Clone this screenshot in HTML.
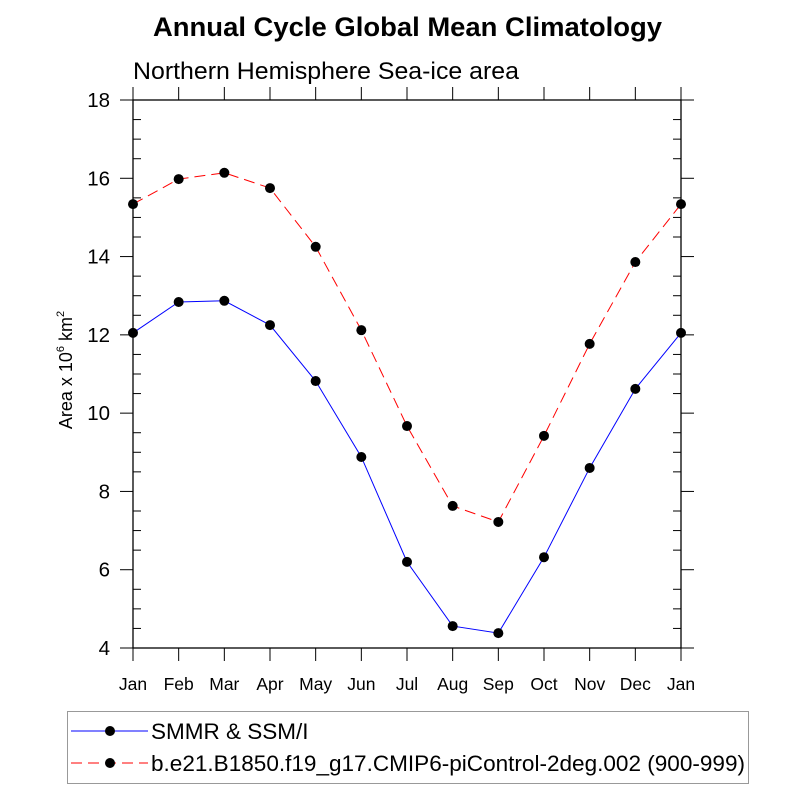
<!DOCTYPE html>
<html><head><meta charset="utf-8"><style>
body{margin:0;background:#fff}
svg text{font-family:"Liberation Sans",Arial,sans-serif;fill:#000}
</style></head><body>
<svg id="chart" width="800" height="800" xmlns="http://www.w3.org/2000/svg">
<text x="153" y="36" textLength="509" lengthAdjust="spacingAndGlyphs" font-size="27" font-weight="bold">Annual Cycle Global Mean Climatology</text>
<text x="133" y="79" textLength="386" lengthAdjust="spacingAndGlyphs" font-size="24">Northern Hemisphere Sea-ice area</text>
<text transform="translate(72,370) rotate(-90)" text-anchor="middle" font-size="18">Area x 10<tspan dy="-8" font-size="11">6</tspan><tspan dy="8"> km</tspan><tspan dy="-8" font-size="11">2</tspan></text>
<g id="axes"></g>
<g id="series"></g>
<g>
<rect x="67.5" y="711.5" width="681" height="72" fill="none" stroke="#999"/>
<g>
<line x1="71" y1="731" x2="148" y2="731" stroke="#00f" stroke-width="1"/>
<circle cx="110" cy="731" r="5" fill="#000"/>
<text x="151" y="739" font-size="22.5">SMMR &amp; SSM/I</text></g>
<g>
<line x1="71" y1="763" x2="148" y2="763" stroke="#f00" stroke-width="1" stroke-dasharray="11,6"/>
<circle cx="110" cy="763" r="5" fill="#000"/>
<text x="151" y="771" textLength="594" lengthAdjust="spacingAndGlyphs" font-size="22.5">b.e21.B1850.f19_g17.CMIP6-piControl-2deg.002 (900-999)</text></g>
</g>
</svg>
<script>
const months=["Jan","Feb","Mar","Apr","May","Jun","Jul","Aug","Sep","Oct","Nov","Dec","Jan"];
const obsValues=[12.05,12.84,12.87,12.25,10.82,8.88,6.2,4.56,4.38,6.32,8.6,10.62,12.05];
const modelValues=[15.34,15.98,16.14,15.75,14.25,12.12,9.67,7.63,7.22,9.42,11.77,13.86,15.34];
const yTicks=[4,6,8,10,12,14,16,18];
const NS="http://www.w3.org/2000/svg";
const L=133,R=681,T=100,B=648,ymin=4,ymax=18;
const xs=i=>L+(R-L)*i/(months.length-1);
const ys=v=>B-(B-T)*(v-ymin)/(ymax-ymin);
function mk(tag,attrs,parent){const e=document.createElementNS(NS,tag);for(const k in attrs)e.setAttribute(k,attrs[k]);parent.appendChild(e);return e;}
const ax=document.getElementById('axes');
const frame=mk('rect',{x:L,y:T,width:R-L,height:B-T,fill:'none',stroke:'#000','stroke-width':1.3},ax);


months.forEach((m,i)=>{
  const x=xs(i);
  mk('line',{x1:x,y1:B,x2:x,y2:B+13,stroke:'#000'},ax);
  mk('line',{x1:x,y1:T,x2:x,y2:T-13,stroke:'#000'},ax);
  const t=mk('text',{x:x,y:B+42,'text-anchor':'middle','font-size':17.5},ax);
  t.textContent=m;
  
  
});
yTicks.forEach(v=>{
  const y=ys(v);
  mk('line',{x1:L-13,y1:y,x2:L,y2:y,stroke:'#000'},ax);
  mk('line',{x1:R,y1:y,x2:R+13,y2:y,stroke:'#000'},ax);
  const t=mk('text',{x:L-23,y:y+7,'text-anchor':'end','font-size':20.5},ax);
  t.textContent=v;
  
  
  if(v<ymax){for(let k=1;k<4;k++){const yy=ys(v+k*0.5);
    mk('line',{x1:L,y1:yy,x2:L+8,y2:yy,stroke:'#000'},ax);
    mk('line',{x1:R-8,y1:yy,x2:R,y2:yy,stroke:'#000'},ax);}}
});
const sg=document.getElementById('series');
function draw(vals,color,dash,name){
  const g=mk('g',{},sg);
  
  
  const pl=mk('polyline',{points:vals.map((v,i)=>xs(i)+','+ys(v)).join(' '),fill:'none',stroke:color,'stroke-width':1,'stroke-dasharray':dash},g);
  
  
  vals.forEach((v,i)=>{const c=mk('circle',{cx:xs(i),cy:ys(v),r:5,fill:'#000'},g);
    
    });
}
draw(obsValues,'#00f','none','series-smmr');
draw(modelValues,'#f00','11,6','series-model');
</script>
</body></html>
